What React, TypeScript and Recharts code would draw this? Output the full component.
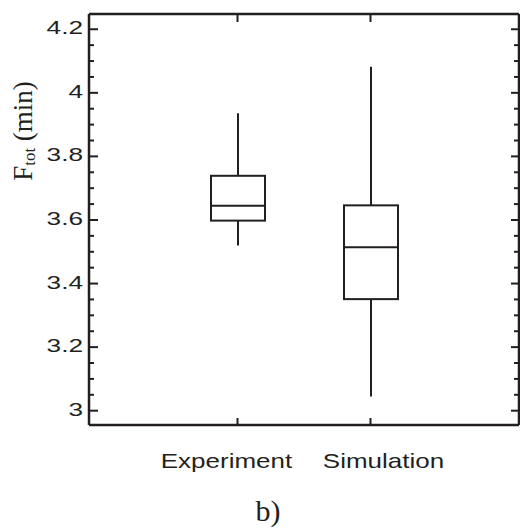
import { ComposedChart, Bar, Scatter, XAxis, YAxis } from 'recharts';

const categories = ['Experiment', 'Simulation'];
const whiskerLow = [3.52, 3.045];
const lowerQuartile = [3.598, 3.351];
const medians = [3.645, 3.514];
const upperQuartile = [3.739, 3.646];
const whiskerHigh = [3.936, 4.082];

const majorTicks = [3, 3.2, 3.4, 3.6, 3.8, 4, 4.2];
const allTicks = [
  3, 3.05, 3.1, 3.15, 3.2, 3.25, 3.3, 3.35, 3.4, 3.45, 3.5, 3.55, 3.6,
  3.65, 3.7, 3.75, 3.8, 3.85, 3.9, 3.95, 4, 4.05, 4.1, 4.15, 4.2,
];

const data = categories.map((name, i) => ({
  name,
  whisker: [whiskerLow[i], whiskerHigh[i]],
  box: [lowerQuartile[i], upperQuartile[i]],
  median: medians[i],
}));

const INK = '#231f20';
const SANS = '"Liberation Sans", Arial, sans-serif';
const SERIF = '"Liberation Serif", "Times New Roman", serif';

function LeftTick({ x, y, payload }: any) {
  const major = majorTicks.includes(payload.value);
  return (
    <g>
      <line x1={x} x2={x + (major ? 9 : 5)} y1={y} y2={y} stroke={INK} strokeWidth={2} />
      {major && (
        <text
          transform={`translate(${x - 6},${y + 5}) scale(1.38,1)`}
          textAnchor="end"
          fontSize={19}
          fontFamily={SANS}
          fill={INK}
        >
          {String(payload.value)}
        </text>
      )}
    </g>
  );
}

function RightTick({ x, y, payload }: any) {
  const major = majorTicks.includes(payload.value);
  return <line x1={x} x2={x - (major ? 8 : 5)} y1={y} y2={y} stroke={INK} strokeWidth={2} />;
}

// labels sit a little off the tick marks in the original
const labelShift = [-11, 13];

function BottomTick({ x, y, payload, index }: any) {
  return (
    <g>
      <line x1={x} x2={x} y1={y} y2={y - 7} stroke={INK} strokeWidth={2} />
      <text
        transform={`translate(${x + labelShift[index]},${y + 43}) scale(1.3,1)`}
        textAnchor="middle"
        fontSize={20}
        fontFamily={SANS}
        fill={INK}
      >
        {payload.value}
      </text>
    </g>
  );
}

function TopTick({ x, y }: any) {
  return <line x1={x} x2={x} y1={y} y2={y + 8} stroke={INK} strokeWidth={2} />;
}

function WhiskerShape({ x, y, width, height }: any) {
  const cx = x + width / 2;
  return <line x1={cx} x2={cx} y1={y} y2={y + height} stroke={INK} strokeWidth={2} />;
}

function BoxShape({ x, y, width, height }: any) {
  return <rect x={x} y={y} width={width} height={height} fill="#fff" stroke={INK} strokeWidth={2} />;
}

function MedianShape({ cx, cy }: any) {
  return <line x1={cx - 27} x2={cx + 27} y1={cy} y2={cy} stroke={INK} strokeWidth={2} />;
}

function YTitle() {
  return (
    <text
      transform="translate(32,131) rotate(-90)"
      textAnchor="middle"
      fontSize={27}
      fontFamily={SERIF}
      fill={INK}
    >
      F<tspan fontSize={17} dy={3}>tot</tspan>
      <tspan dy={-3}> (min)</tspan>
    </text>
  );
}

function Caption() {
  return (
    <text x={268} y={521} textAnchor="middle" fontSize={30} fontFamily={SERIF} fill={INK}>
      b)
    </text>
  );
}

export default function App() {
  return (
    <div style={{ position: 'absolute', left: 0, top: 0, width: 520, height: 529, background: '#fff' }}>
      <ComposedChart
        width={520}
        height={529}
        data={data}
        margin={{ top: 13, right: 0, bottom: 0, left: 0 }}
      >
        <XAxis
          xAxisId="bottom"
          dataKey="name"
          type="category"
          height={104}
          padding={{ left: 82, right: 82 }}
          axisLine={{ stroke: INK, strokeWidth: 2.5 }}
          tickLine={false}
          tickSize={0}
          tickMargin={0}
          tick={<BottomTick />}
          interval={0}
          label={<Caption />}
        />
        <XAxis
          xAxisId="top"
          orientation="top"
          dataKey="name"
          type="category"
          height={1}
          padding={{ left: 82, right: 82 }}
          axisLine={{ stroke: INK, strokeWidth: 2.5 }}
          tickLine={false}
          tickSize={0}
          tickMargin={0}
          tick={<TopTick />}
          interval={0}
        />
        <YAxis
          yAxisId="left"
          type="number"
          width={89}
          domain={[2.955, 4.248]}
          allowDataOverflow
          ticks={allTicks}
          interval={0}
          axisLine={{ stroke: INK, strokeWidth: 2.5 }}
          tickLine={false}
          tickSize={0}
          tickMargin={0}
          tick={<LeftTick />}
          label={<YTitle />}
        />
        <YAxis
          yAxisId="right"
          orientation="right"
          type="number"
          width={1}
          domain={[2.955, 4.248]}
          allowDataOverflow
          ticks={allTicks}
          interval={0}
          axisLine={{ stroke: INK, strokeWidth: 2.5 }}
          tickLine={false}
          tickSize={0}
          tickMargin={0}
          tick={<RightTick />}
        />
        <Bar
          xAxisId="top"
          yAxisId="left"
          dataKey="whisker"
          barSize={54}
          shape={<WhiskerShape />}
          isAnimationActive={false}
        />
        <Bar
          xAxisId="bottom"
          yAxisId="left"
          dataKey="box"
          barSize={54}
          shape={<BoxShape />}
          isAnimationActive={false}
        />
        <Scatter
          xAxisId="bottom"
          yAxisId="right"
          dataKey="median"
          shape={<MedianShape />}
          isAnimationActive={false}
        />
      </ComposedChart>
    </div>
  );
}
